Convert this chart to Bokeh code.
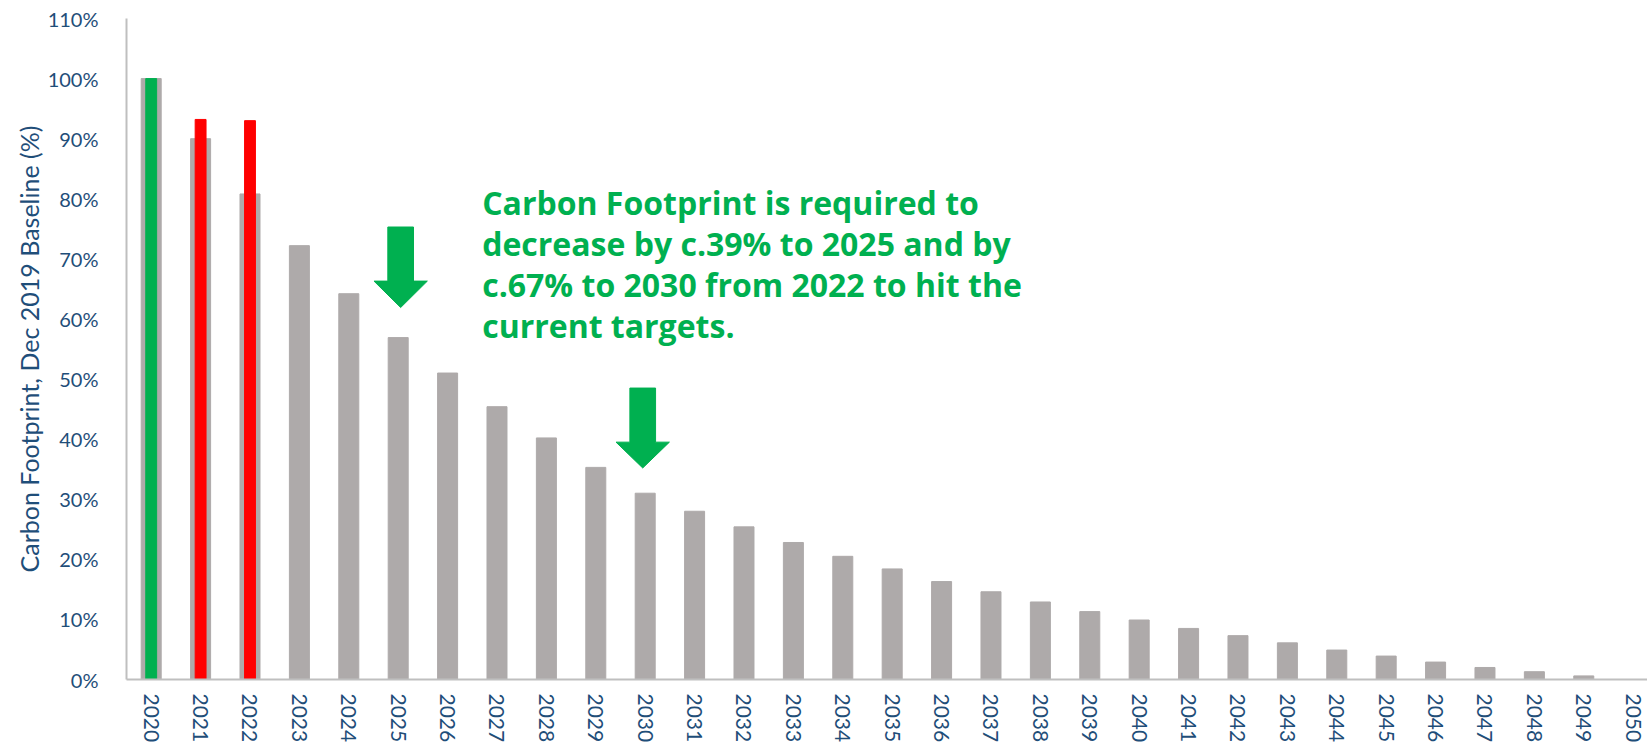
from bokeh.plotting import figure
from bokeh.models import FixedTicker, NumeralTickFormatter
from bokeh.core.properties import value
from bokeh.embed import file_html
from bokeh.resources import INLINE

years = list(range(2020, 2051))
target = [1.000, 0.900, 0.808, 0.722, 0.642, 0.569, 0.510, 0.454, 0.402, 0.353,
          0.310, 0.280, 0.254, 0.228, 0.205, 0.184, 0.163, 0.146, 0.129, 0.113,
          0.099, 0.085, 0.073, 0.061, 0.049, 0.039, 0.029, 0.020, 0.013, 0.006, 0.0]
actual_years = [2020, 2021, 2022]
actual = [1.000, 0.932, 0.930]
actual_colors = ["#00B050", "#FF0000", "#FF0000"]

arrow_x = [2025.05, 2029.95]
arrow_top = [0.753, 0.485]
arrow_neck = [0.663, 0.395]
arrow_tip = [0.619, 0.352]

note_lines = ["Carbon Footprint is required to",
              "decrease by c.39% to 2025 and by",
              "c.67% to 2030 from 2022 to hit the",
              "current targets."]
note_y = [0.794, 0.7255, 0.657, 0.5885]

NAVY = "#1F4E79"
FONT = "Lato"
GREEN = "#00B050"

p = figure(width=1647, height=745, x_range=(2019.5, 2050.29), y_range=(0, 1.1),
           output_backend="svg", toolbar_location=None,
           min_border_left=126, min_border_top=18, min_border_right=0, min_border_bottom=64)
p.outline_line_color = None
p.xgrid.grid_line_color = None
p.ygrid.grid_line_color = None

p.vbar(x=years, top=target, width=0.405, color="#AEAAAA")
p.vbar(x=actual_years, top=actual, width=0.22, color=actual_colors)

xs, ys = [], []
sw, hw = 0.26, 0.54
for x, t, n, tip in zip(arrow_x, arrow_top, arrow_neck, arrow_tip):
    xs.append([x - sw, x + sw, x + sw, x + hw, x, x - hw, x - sw])
    ys.append([t, t, n, n, tip, n, n])
p.patches(xs=xs, ys=ys, color=GREEN)

p.text(x=[2026.70] * 4, y=note_y, text=note_lines, text_font=value("Open Sans"),
       text_font_style="bold", text_font_size="32px", text_color=GREEN,
       text_baseline="alphabetic", text_align="left")

p.xaxis.ticker = FixedTicker(ticks=years)
p.xaxis.major_label_orientation = "vertical"
p.yaxis.ticker = FixedTicker(ticks=[i / 10 for i in range(12)])
p.yaxis.formatter = NumeralTickFormatter(format="0%")
for ax in (p.xaxis, p.yaxis):
    ax.axis_line_color = "#BFBFBF"
    ax.axis_line_width = 2
    ax.major_tick_line_color = None
    ax.minor_tick_line_color = None
    ax.major_tick_out = 0
    ax.major_tick_in = 0
    ax.minor_tick_out = 0
    ax.minor_tick_in = 0
    ax.major_label_text_font = FONT
    ax.major_label_text_color = NAVY
p.xaxis.major_label_text_font_size = "21px"
p.yaxis.major_label_text_font_size = "20px"
p.xaxis.major_label_standoff = 14
p.yaxis.major_label_standoff = 28
p.yaxis.axis_label = "Carbon Footprint, Dec 2019 Baseline (%)"
p.yaxis.axis_label_text_font = FONT
p.yaxis.axis_label_text_font_style = "normal"
p.yaxis.axis_label_text_font_size = "25px"
p.yaxis.axis_label_text_color = NAVY
p.yaxis.axis_label_standoff = 1

open("out.html", "w").write(file_html(p, INLINE))
